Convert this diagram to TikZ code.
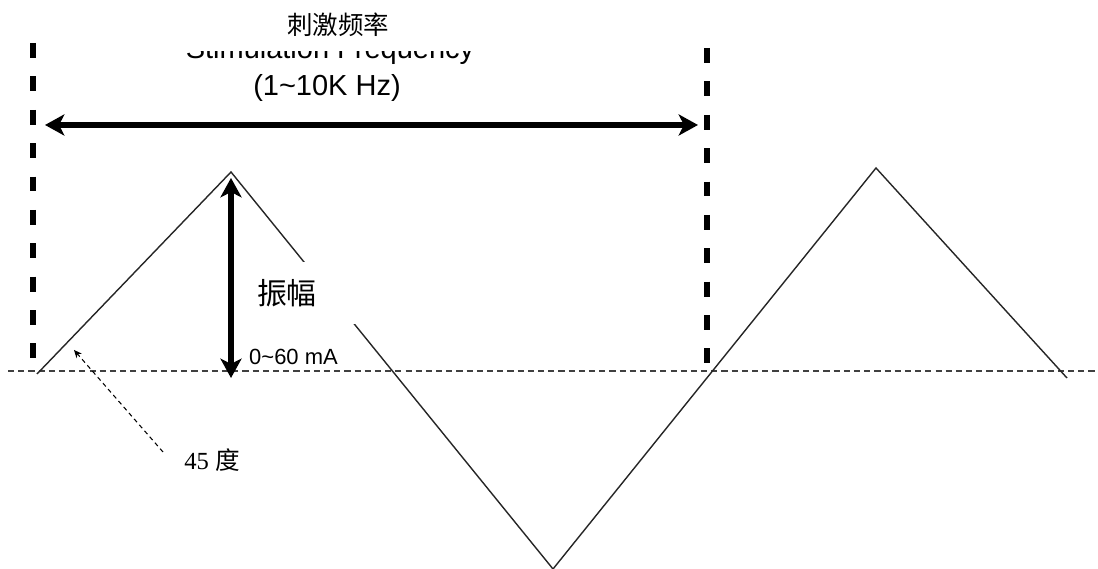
\documentclass[tikz,border=0pt]{standalone}
\usepackage{fontspec}
\setmainfont{Liberation Serif}
\newfontfamily\cjk{Noto Sans CJK SC}
\newfontfamily\arial{Liberation Sans}
\usetikzlibrary{arrows.meta}

\begin{document}
\begin{tikzpicture}

    \tikzstyle{waveline} = [line width=0.8pt, black!85]
    \tikzstyle{boundline} = [line width=3.4pt, dash pattern=on 8.5pt off 10.5pt]
    \tikzstyle{zeroline} = [line width=0.9pt, dash pattern=on 3.5pt off 2.3pt, black!75]
    \tikzstyle{spanarrow} = [line width=3.1pt, {Stealth[length=11pt,width=12pt,inset=3pt]}-{Stealth[length=11pt,width=12pt,inset=3pt]}]
    \tikzstyle{hintarrow} = [line width=0.6pt, dash pattern=on 2.5pt off 2pt, -{Stealth[length=4.5pt,width=4pt]}]
    \tikzstyle{sanslabel} = [font=\arial\fontsize{16.5}{18}\selectfont]

    \useasboundingbox (0,0) rectangle (21.96,11.38);

    % Wave corners
    \coordinate (w0) at (0.74,3.90);
    \coordinate (w1) at (4.62,7.94);
    \coordinate (w2) at (11.06,0);
    \coordinate (w3) at (17.52,8.02);
    \coordinate (w4) at (21.34,3.82);

    % Non-arrow lines
    \draw[zeroline] (0.16,3.96) -- (21.96,3.96);
    \draw[boundline] (0.66,10.52) -- (0.66,4.12);
    \draw[boundline] (14.14,10.42) -- (14.14,3.98);
    \draw[waveline] (w0) -- (w1) -- (w2) -- (w3) -- (w4);

    % Nodes
    \node[fill=white, inner xsep=0.14cm, inner ysep=0, text width=1.84cm, minimum height=1.24cm, align=left,
          font=\cjk\fontsize{17}{20}\selectfont] (amp) at (6.06,5.52) {振幅};
    \node[sanslabel, font=\arial\fontsize{12.5}{14}\selectfont, anchor=west] (range) at (4.86,4.24) {0\char`~60 mA};
    \node[sanslabel] (hz) at (6.54,9.62) {(1\char`~10K Hz)};
    \begin{scope}
        \clip (3,0) rectangle (10,10.34);
        \node[sanslabel, anchor=base] (engl) at (6.6,10.2) {Stimulation Frequency};
    \end{scope}
    \node[font=\cjk\fontsize{14.5}{17}\selectfont] (freq) at (6.76,10.88) {刺激频率};
    \node[font=\fontsize{14}{17}\selectfont] (deg) at (4.24,2.18) {45 {\cjk 度}};

    % Arrows
    \coordinate (fl) at (0.90,8.88);
    \coordinate (fr) at (13.96,8.88);
    \coordinate (at) at (4.62,7.82);
    \coordinate (ab) at (4.62,3.82);
    \coordinate (dtail) at (3.26,2.34);
    \coordinate (dtip) at (1.48,4.38);
    \draw[spanarrow] (fl) -- (fr);
    \draw[spanarrow] (at) -- (ab);
    \draw[hintarrow] (dtail) -- (dtip);

\end{tikzpicture}
\end{document}
